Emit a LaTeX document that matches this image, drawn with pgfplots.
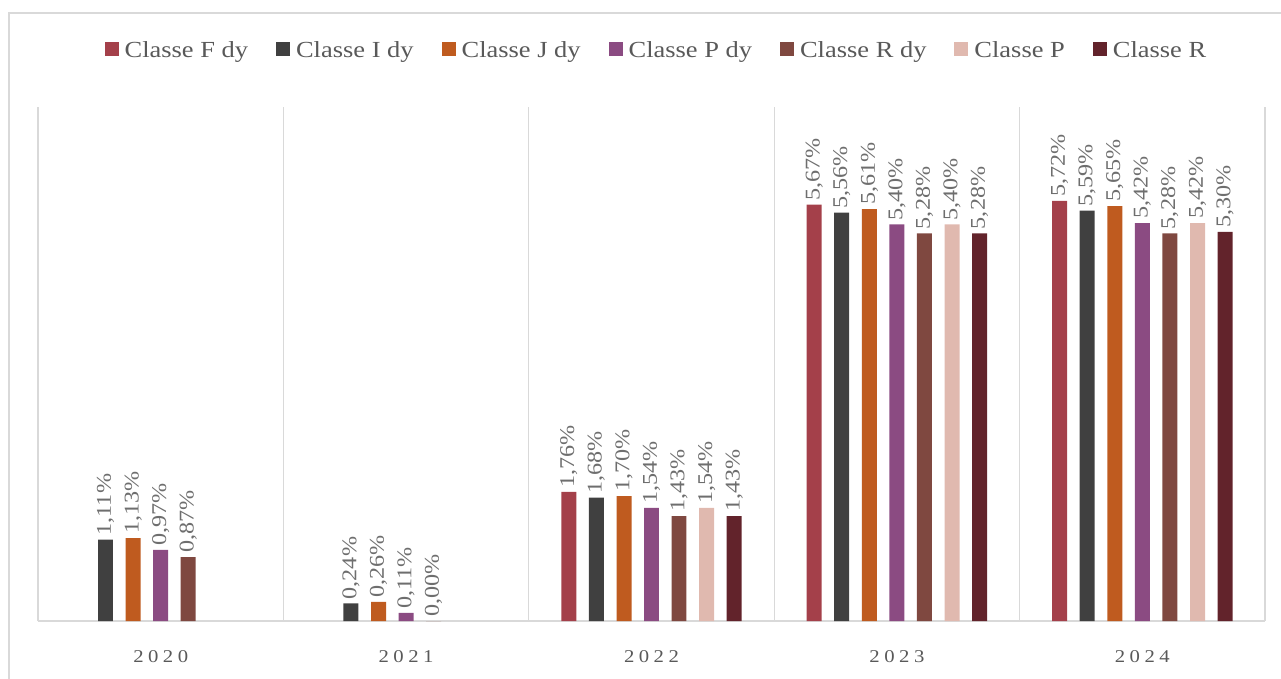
\documentclass[border=0pt]{standalone}
\usepackage{fontspec}
\setmainfont{Liberation Serif}[FakeStretch=1.15]
\usepackage{pgfplots}
\pgfplotsset{compat=1.18}
\definecolor{cF}{HTML}{A4404A}
\definecolor{cI}{HTML}{404040}
\definecolor{cJ}{HTML}{BF5B1F}
\definecolor{cPd}{HTML}{8B4B82}
\definecolor{cRd}{HTML}{7F4840}
\definecolor{cP}{HTML}{E0B9AF}
\definecolor{cR}{HTML}{62232B}
\definecolor{gridc}{HTML}{D9D9D9}
\definecolor{txt}{HTML}{595959}
\definecolor{lbl}{HTML}{6E6E6E}
\begin{document}
\begin{tikzpicture}
\begin{axis}[
  scale only axis, width=1227pt, height=514pt,
  xmin=-0.5, xmax=4.5, ymin=0, ymax=7,
  ybar, bar width=0.061,
  axis x line*=bottom, axis y line=none,
  x axis line style={draw=gridc, line width=1.3pt, -},
  xtick={0,1,2,3,4},
  xticklabels={2\hspace{4.5pt}0\hspace{4.5pt}2\hspace{4.5pt}0,2\hspace{4.5pt}0\hspace{4.5pt}2\hspace{4.5pt}1,2\hspace{4.5pt}0\hspace{4.5pt}2\hspace{4.5pt}2,2\hspace{4.5pt}0\hspace{4.5pt}2\hspace{4.5pt}3,2\hspace{4.5pt}0\hspace{4.5pt}2\hspace{4.5pt}4},
  xtick style={draw=none},
  minor xtick={-0.5,0.5,1.5,2.5,3.5,4.5},
  minor tick length=0pt,
  xminorgrids, minor grid style={draw=gridc, line width=1.3pt},
  xticklabel style={font=\fontsize{18}{20}\selectfont, text=txt, yshift=-22pt},
  ytick=\empty,
  /pgf/number format/assume math mode=true,
  nodes near coords={\pgfmathprintnumber[fixed,fixed zerofill,precision=2,use comma]{\pgfplotspointmeta}\%},
  every node near coord/.append style={rotate=90, anchor=west, font=\fontsize{21}{24}\selectfont, text=lbl, inner sep=4pt},
  legend columns=7,
  legend cell align=left,
  legend image code/.code={\fill[#1] (0pt,-6pt) rectangle (14pt,8pt);},
  legend style={draw=none, fill=none, at={(0.504,1.111)}, anchor=center,
    font=\fontsize{23}{26}\selectfont, text=txt,
    /tikz/every odd column/.append style={column sep=4pt},
    /tikz/every even column/.append style={column sep=26pt}},
  clip=false,
]
\addplot[fill=cF, draw=none, bar shift=-0.337] coordinates {(2,1.76) (3,5.67) (4,5.72)};
\addplot[fill=cI, draw=none, bar shift=-0.225] coordinates {(0,1.11) (1,0.24) (2,1.68) (3,5.56) (4,5.59)};
\addplot[fill=cJ, draw=none, bar shift=-0.112] coordinates {(0,1.13) (1,0.26) (2,1.70) (3,5.61) (4,5.65)};
\addplot[fill=cPd, draw=none, bar shift=0] coordinates {(0,0.97) (1,0.11) (2,1.54) (3,5.40) (4,5.42)};
\addplot[fill=cRd, draw=none, bar shift=0.112] coordinates {(0,0.87) (1,0.00) (2,1.43) (3,5.28) (4,5.28)};
\addplot[fill=cP, draw=none, bar shift=0.225] coordinates {(2,1.54) (3,5.40) (4,5.42)};
\addplot[fill=cR, draw=none, bar shift=0.337] coordinates {(2,1.43) (3,5.28) (4,5.30)};
\legend{Classe F dy, Classe I dy, Classe J dy, Classe P dy, Classe R dy, Classe P, Classe R}
\coordinate (bl) at (rel axis cs:0,0);
\coordinate (tr) at (rel axis cs:1,1);
\end{axis}
\pgfresetboundingbox
\path[use as bounding box] ([shift={(-38pt,-57pt)}]bl) rectangle ([shift={(16pt,107pt)}]tr);
\draw[gridc, line width=1.5pt] ([shift={(-29pt,608pt)}]bl) rectangle ([shift={(1260pt,-80pt)}]bl);
\end{tikzpicture}
\end{document}
